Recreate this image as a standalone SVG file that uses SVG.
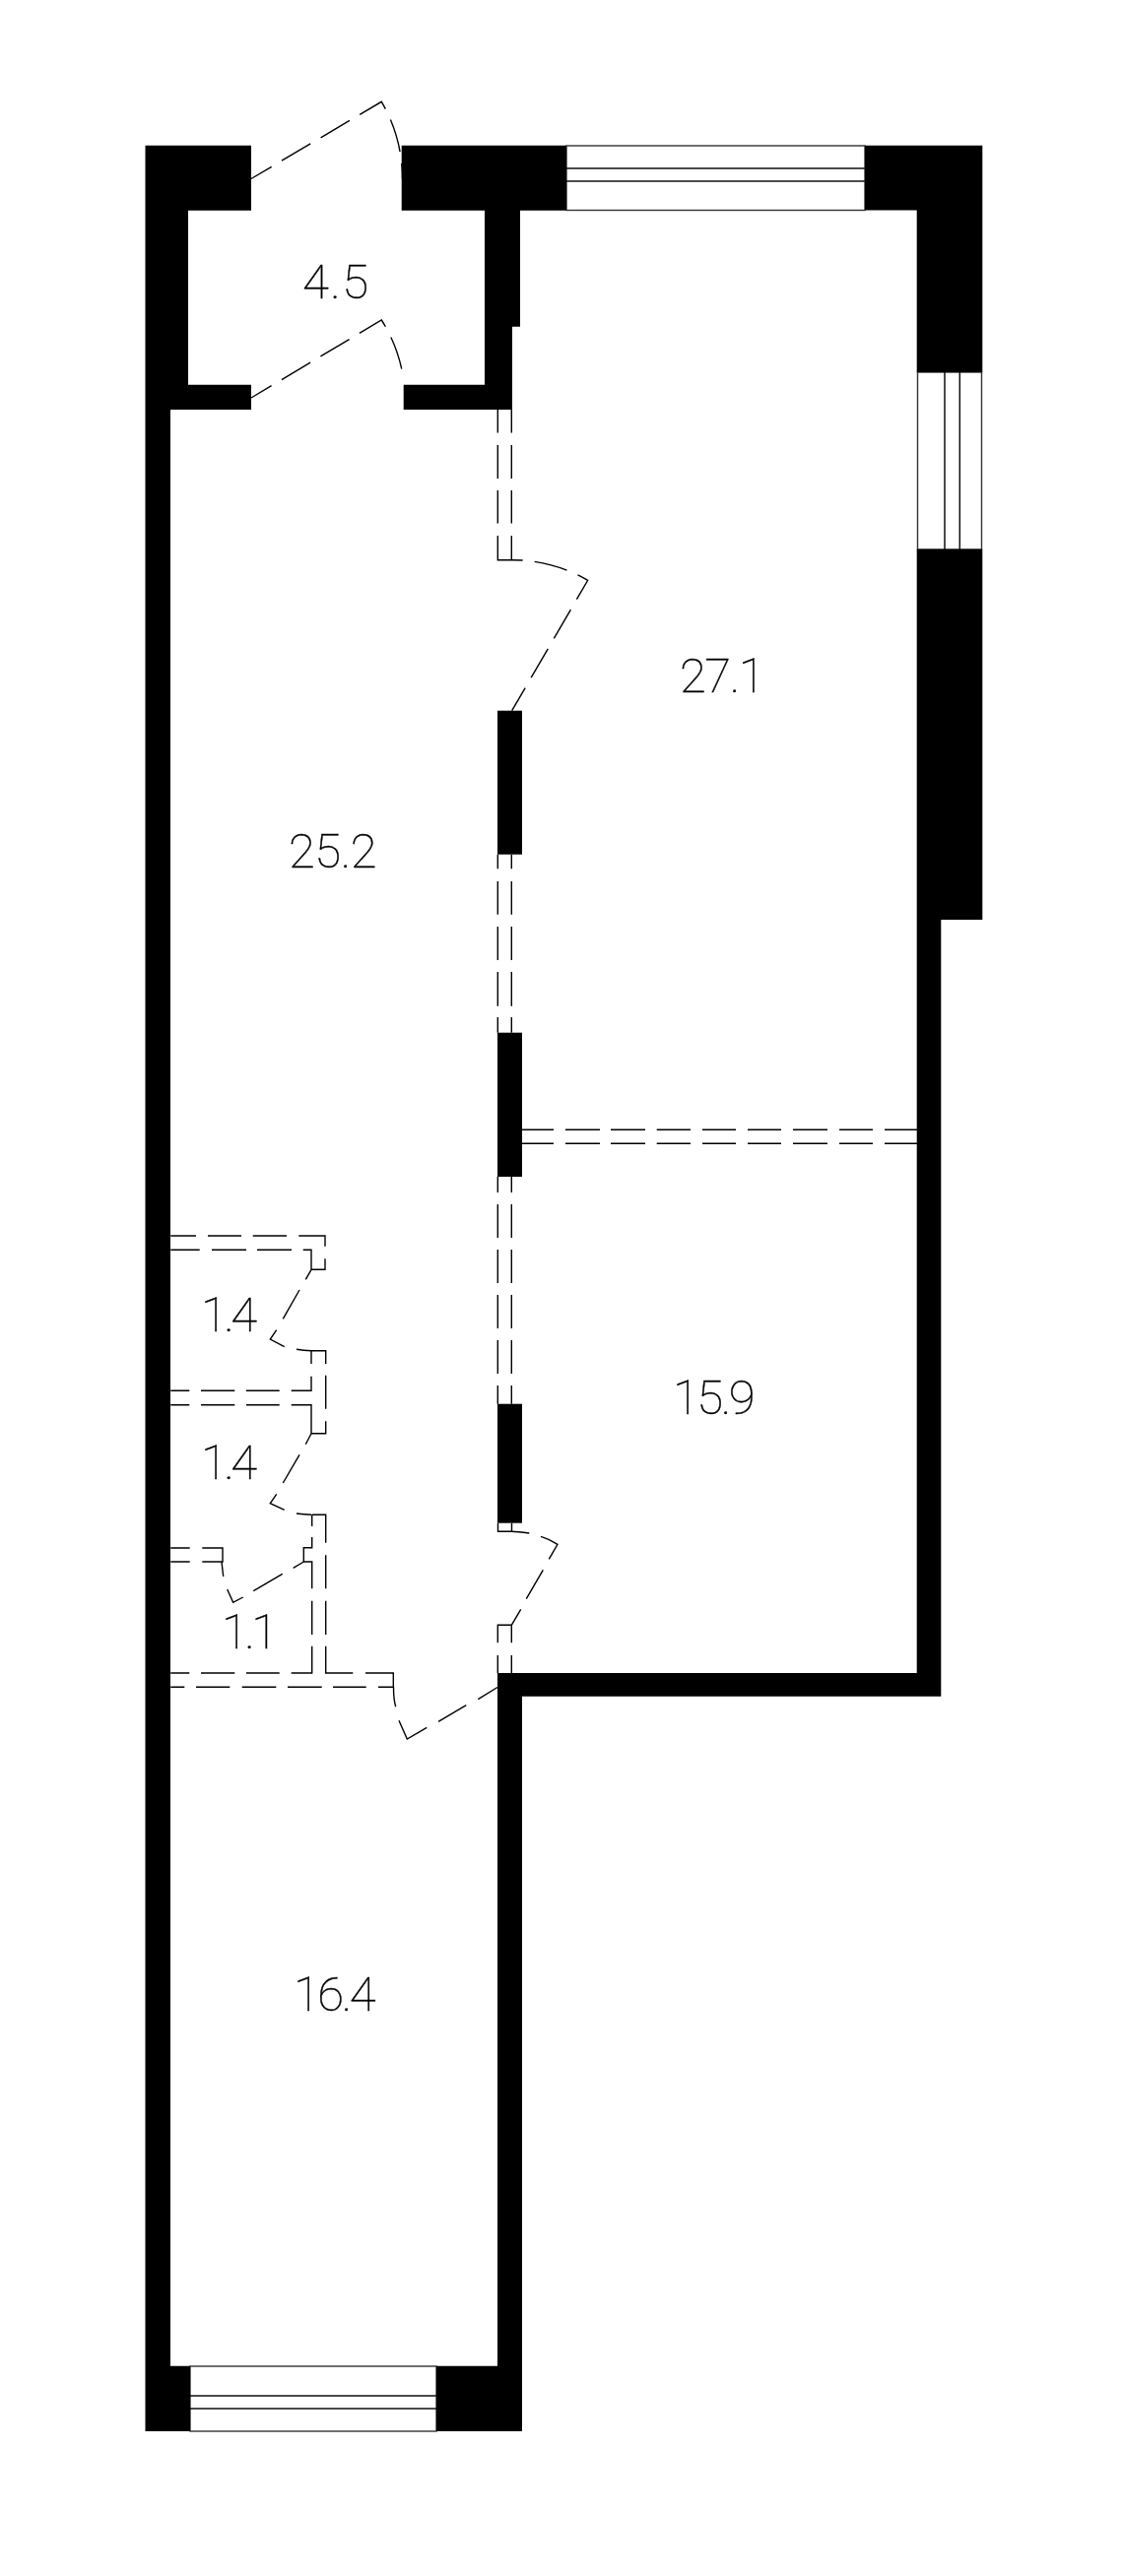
<svg xmlns="http://www.w3.org/2000/svg" width="1139" height="2616" viewBox="0 0 1139 2616">
<style>
.wall{fill:#000;stroke:none}
.win{fill:#fff;stroke:#333;stroke-width:1.4}
.winl{fill:none;stroke:#111;stroke-width:1.5}
.ln{fill:none;stroke:#000;stroke-width:1.4}
.d{stroke-dasharray:34 12}
text{font-family:"Roboto","Liberation Sans",sans-serif;font-weight:100;font-size:49px;fill:#000;letter-spacing:-0.5px;stroke:#000;stroke-width:0.4px}
</style>
<rect width="1139" height="2616" fill="#fff"/>
<g id="doors">
<path class="ln d" stroke-dashoffset="10" d="M255,181.5L387.3,103.3A153.5,153.5 0 0 1 408.5,181.5"/>
<path class="ln d" stroke-dashoffset="10" d="M255,404L387.3,325A153.5,153.5 0 0 1 409,381"/>
<path class="ln d" stroke-dashoffset="23" d="M519.7,568.7A153,153 0 0 1 596.7,589.3L519.7,721.7"/>
<path class="ln" d="M519.3,1555.3Q525,1555.5 537.3,1557M549,1560.3Q558,1563 566,1568.3L557.3,1583.3M551.3,1594.3L534.3,1623.7M528.7,1634.3L519.3,1650.3"/>
<path class="ln" d="M505,1713.5L485.3,1725.7M473.3,1731.7L445,1748.3M433.3,1754.3L413.3,1766L405,1747.3M401.7,1733.3Q399.5,1726 399.5,1713.3"/>
<path class="ln" d="M316,1289.3L310.3,1299.3M304,1310L287.3,1339.3M280.7,1350.7L274.3,1360L288.7,1367.7M301,1370.3Q308,1371.5 316,1371.7"/>
<path class="ln" d="M316,1455.7L310.3,1466.7M304,1477.3L287.3,1506M280.7,1517.3L274.3,1526.7L288.7,1533.3M301,1537Q308,1538 316,1538.3"/>
<path class="ln" d="M308.3,1586L297.7,1592.3M286.7,1598.3L257.3,1615.7M246.7,1622L236.7,1627.3L230.7,1614M226.7,1601L225,1586"/>
</g>
<g id="partitions">
<path class="ln" d="M505.3,416V439.5M505.3,452V486M505.3,498V531.5M505.3,544V568.7H519.3V544M519.3,531.5V498M519.3,486V452M519.3,439.5V416"/>
<path class="ln" d="M505.3,867.7V882.3M505.3,895V928.7M505.3,941V975M505.3,987V1021.7M505.3,1033V1048.7M519.3,867.7V882.3M519.3,895V928.7M519.3,941V975M519.3,987V1021.7M519.3,1033V1048.7"/>
<path class="ln" d="M530,1147.3H562M574,1147.3H609M620,1147.3H655M666.7,1147.3H701M713,1147.3H747M759,1147.3H793M805,1147.3H840M852,1147.3H886M898,1147.3H931M530,1161.3H562M574,1161.3H609M620,1161.3H655M666.7,1161.3H701M713,1161.3H747M759,1161.3H793M805,1161.3H840M852,1161.3H886M898,1161.3H931"/>
<path class="ln" d="M505.3,1195V1211M505.3,1223V1257M505.3,1269V1303M505.3,1315V1349M505.3,1361V1395M505.3,1407V1425.7M519.3,1195V1211M519.3,1223V1257M519.3,1269V1303M519.3,1315V1349M519.3,1361V1395M519.3,1407V1425.7"/>
<path class="ln" d="M505.5,1546.7V1555.3H519.5V1546.7"/>
<path class="ln" d="M505.3,1699V1681M505.3,1668.3V1650.3H519.3V1668.3M519.3,1681V1699"/>
<path class="ln" d="M173.3,1255H199M211,1255H245M256.7,1255H291M303.3,1255H330V1265.7M330,1278.3V1289.3H316V1269.3H307.7M173.3,1269.3H202.7M215,1269.3H250M261,1269.3H296"/>
<path class="ln" d="M316,1371.7H330.7V1385M316,1371.7V1385M316,1397.7V1412.3H295.7M283.7,1412.3H250M238.3,1412.3H204M192.3,1412.3H173.3M330.7,1396.7V1430.7M330.7,1443.3V1455.7H316V1426.7H295.7M283.7,1426.7H250M238.3,1426.7H204M192.3,1426.7H173.3"/>
<path class="ln" d="M316.7,1538.3H330.7V1566.7M330.7,1579.3V1613.3M330.7,1625.7V1660M330.7,1671.7V1699H358.3M371,1699H399.3V1713.3H384M371.7,1713.3H338M326.7,1713.3H292M280.3,1713.3H245.7M233.3,1713.3H199M187.3,1713.3H173.3M316.7,1538.3V1550M316.7,1561V1571.7H308.3V1586H316.7V1613.3M316.7,1625.7V1660M316.7,1671.7V1699H295.7M283.7,1699H250M238.3,1699H204M192.3,1699H173.3"/>
<path class="ln" d="M173.3,1572H192.7M205.3,1572H226V1586H205.3M192.7,1586H173.3"/>
</g>
<g id="windows">
<rect class="win" x="575" y="148" width="303" height="65.5"/>
<path class="winl" d="M575,171H878M575,184H878"/>
<rect class="win" x="931.5" y="378" width="65" height="180"/>
<path class="winl" d="M959,378V558M974.3,378V558"/>
<rect class="win" x="193" y="2403" width="250" height="66"/>
<path class="winl" d="M193,2433H443M193,2446H443"/>
</g>
<g id="walls">
<path class="wall" d="M147.5,147.7H255V213.7H191V390.7H255V416H173V2402.7H193V2469H147.5Z"/>
<path class="wall" d="M407.7,147.7H575V213.7H528V331.7H520V416H409.7V390.7H492V213.7H407.7Z"/>
<path class="wall" d="M878,147.7H997.3V378H930.7V213.5H878Z"/>
<path class="wall" d="M930.7,557.7H997.3V934H955.3V1722.7H530V2402.7V2469H443V2402.7H505V1699H930.7Z"/>
<rect class="wall" x="505" y="721.7" width="25" height="146"/>
<rect class="wall" x="505" y="1048.7" width="25" height="146.3"/>
<rect class="wall" x="505" y="1425.7" width="25" height="121"/>
</g>
<g id="labels">
<text x="307" y="302.7" style="letter-spacing:1.5px">4.5</text>
<text x="690" y="703.3" style="letter-spacing:-1.5px">27.1</text>
<text x="293" y="880.7">25.2</text>
<text x="204" y="1352.3" style="letter-spacing:-3.5px">1.4</text>
<text x="204" y="1501.7" style="letter-spacing:-3.5px">1.4</text>
<text x="225" y="1674.3" style="letter-spacing:-3.5px">1.1</text>
<text x="683" y="1436" style="letter-spacing:-2.5px">15.9</text>
<text x="298" y="2041.7" style="letter-spacing:-2.5px">16.4</text>
</g>
</svg>
